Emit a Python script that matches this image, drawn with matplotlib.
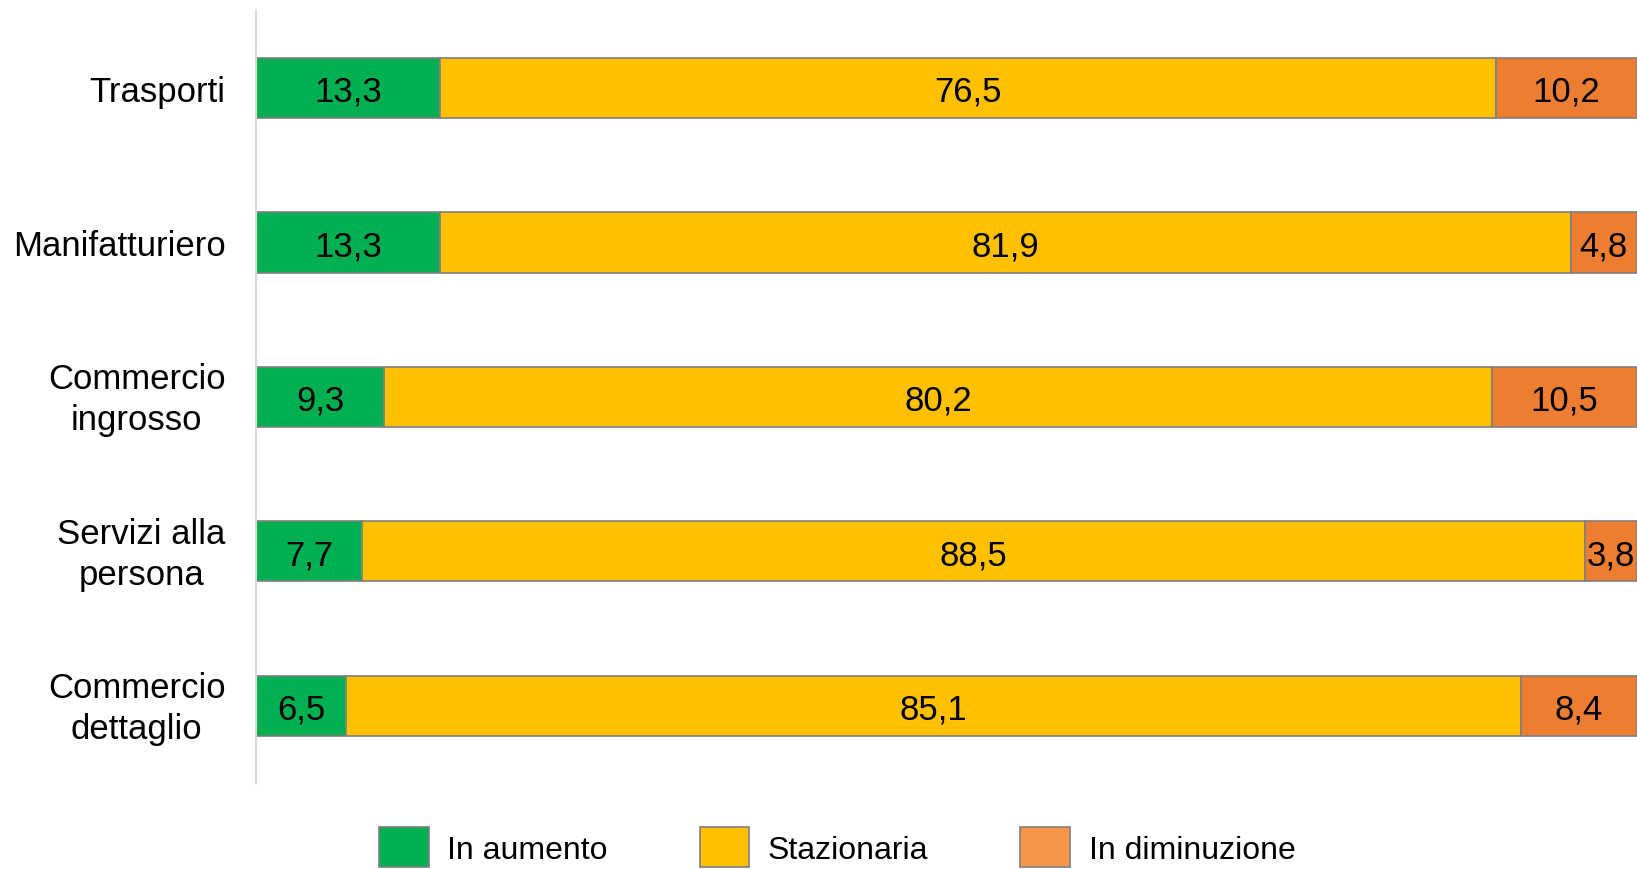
import matplotlib
matplotlib.use("Agg")
import matplotlib.pyplot as plt
import matplotlib.transforms as mtransforms
from matplotlib.patches import Patch
import numpy as np

plt.rcParams['font.family'] = ['Liberation Sans', 'DejaVu Sans']

categorie = ["Trasporti", "Manifatturiero", "Commercio\ningrosso",
             "Servizi alla\npersona", "Commercio\ndettaglio"]
in_aumento = [13.3, 13.3, 9.3, 7.7, 6.5]
stazionaria = [76.5, 81.9, 80.2, 88.5, 85.1]
in_diminuzione = [10.2, 4.8, 10.5, 3.8, 8.4]

serie = ["In aumento", "Stazionaria", "In diminuzione"]
colori = ["#00B050", "#FFC000", "#ED7D31"]
colori_legenda = ["#00B050", "#FFC000", "#F79646"]

fig = plt.figure(figsize=(16.37, 8.70), dpi=100)
ax = fig.add_axes([0.1564, 0.0989, 1 - 0.1564, 0.9874 - 0.0989])

y = np.arange(len(categorie))
left = np.zeros(len(categorie))
for valori, col in zip([in_aumento, stazionaria, in_diminuzione], colori):
    bars = ax.barh(y, valori, left=left, height=0.39, color=col,
                   edgecolor="#7F7F7F", linewidth=1.2)
    testi = ax.bar_label(bars, labels=[f"{v:.1f}".replace(".", ",") for v in valori],
                         label_type="center", fontsize=25, color="black")
    for t in testi:
        t.set_va("center_baseline")
    left += np.array(valori)

ax.set_xlim(0, 100)
ax.set_ylim(4.50, -0.505)
ax.set_yticks(y)
ax.set_yticklabels(categorie, fontsize=25, multialignment="center",
                   linespacing=1.3)
ax.tick_params(axis="y", length=0, pad=22)
ax.set_xticks([])

# le etichette su due righe vanno un po' più in alto
sposta = mtransforms.ScaledTranslation(0, 5 / 100, fig.dpi_scale_trans)
for lab in ax.get_yticklabels():
    if "\n" in lab.get_text():
        lab.set_transform(lab.get_transform() + sposta)

for lato in ["top", "right", "bottom"]:
    ax.spines[lato].set_visible(False)
ax.spines["left"].set_color("#D9D9D9")
ax.spines["left"].set_linewidth(1.5)

maniglie = [Patch(facecolor=c, edgecolor="#7F7F7F", linewidth=1.2, label=s)
            for c, s in zip(colori_legenda, serie)]
fig.legend(handles=maniglie, loc="center", ncol=3, frameon=False,
           bbox_to_anchor=(0.5115, 1 - 848 / 870), fontsize=23,
           handlelength=1.54, handleheight=1.55, handletextpad=0.59,
           columnspacing=2.88)

fig.savefig("out.png", dpi=100)
